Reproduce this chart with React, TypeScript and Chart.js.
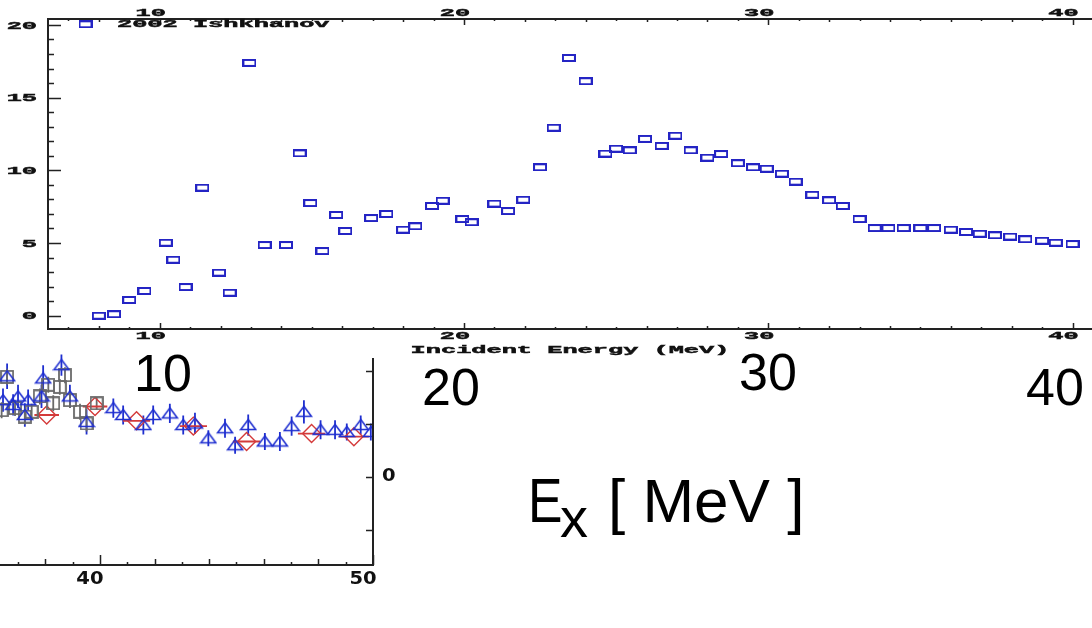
import React, { useEffect, useRef } from "react";
import { Chart, registerables } from "chart.js";

Chart.register(...registerables);

// ---------- Main chart: 2002 Ishkhanov ----------
const ENERGY = [8.0, 8.5, 9.0, 9.5, 10.2, 10.45, 10.85, 11.4, 11.95, 12.3, 12.95, 13.45, 14.15, 14.6, 14.95, 15.35, 15.8, 16.1, 16.95, 17.45, 18.0, 18.4, 18.95, 19.3, 19.95, 20.25, 21.0, 21.45, 21.95, 22.5, 22.95, 23.45, 24.0, 24.65, 25.0, 25.45, 25.95, 26.5, 26.95, 27.45, 28.0, 28.45, 29.0, 29.5, 29.95, 30.45, 30.9, 31.45, 32.0, 32.45, 33.0, 33.5, 33.95, 34.45, 35.0, 35.45, 36.0, 36.5, 36.95, 37.45, 37.95, 38.45, 39.0, 39.45, 40.0];
const CROSS_SECTION = [0.0, 0.1, 1.08, 1.7, 5.02, 3.85, 1.97, 8.81, 2.96, 1.58, 17.39, 4.86, 4.86, 11.17, 7.75, 4.45, 6.93, 5.83, 6.72, 7.0, 5.92, 6.15, 7.55, 7.91, 6.65, 6.43, 7.71, 7.2, 7.98, 10.21, 12.93, 17.73, 16.13, 11.15, 11.49, 11.38, 12.16, 11.68, 12.38, 11.38, 10.87, 11.12, 10.49, 10.21, 10.11, 9.77, 9.22, 8.32, 7.94, 7.55, 6.65, 6.03, 6.03, 6.03, 6.03, 6.03, 5.92, 5.76, 5.64, 5.53, 5.44, 5.26, 5.16, 5.02, 4.93];
const SERIES_LABEL = "2002 Ishkhanov";
const MAIN_X_TITLE = "Incident Energy (MeV)";
const MAIN_X_TICK_LABELS = [10, 20, 30, 40];
const MAIN_Y_TICK_LABELS = [0, 5, 10, 15, 20];
const MAIN_X_RANGE = [6.33, 40.64];
const MAIN_Y_RANGE = [-0.915, 20.41];

// ---------- Fragment chart (lower left) ----------
const TRI_X = [36.45, 36.6, 36.82, 37.0, 37.25, 37.37, 37.86, 37.92, 38.59, 38.9, 39.51, 40.49, 40.85, 41.59, 41.95, 42.56, 43.05, 43.48, 43.97, 44.58, 44.95, 45.43, 46.04, 46.59, 47.02, 47.47, 48.08, 48.61, 49.04, 49.55, 49.92];
const TRI_Y = [1.45, 1.9, 1.36, 1.52, 1.17, 1.45, 1.52, 1.86, 2.11, 1.52, 1.04, 1.3, 1.17, 0.98, 1.17, 1.2, 0.98, 1.01, 0.73, 0.92, 0.6, 0.98, 0.67, 0.67, 0.96, 1.23, 0.89, 0.89, 0.85, 0.98, 0.85];
const TRI_ERR = [0.22, 0.24, 0.2, 0.22, 0.22, 0.2, 0.22, 0.25, 0.2, 0.22, 0.24, 0.18, 0.18, 0.18, 0.18, 0.18, 0.18, 0.2, 0.15, 0.18, 0.16, 0.2, 0.16, 0.18, 0.18, 0.22, 0.18, 0.18, 0.16, 0.18, 0.16];
const SQ_X = [36.4, 36.6, 36.89, 37.25, 37.5, 37.8, 38.11, 38.29, 38.53, 38.72, 38.9, 39.27, 39.51, 39.88];
const SQ_Y = [1.26, 1.89, 1.3, 1.14, 1.23, 1.52, 1.74, 1.39, 1.7, 1.92, 1.45, 1.23, 1.01, 1.39];
const SQ_ERR = [0.15, 0.15, 0.15, 0.15, 0.15, 0.15, 0.15, 0.15, 0.15, 0.15, 0.15, 0.15, 0.15, 0.12];
const DIA_X = [38.05, 39.82, 41.34, 43.42, 45.37, 47.75, 49.3];
const DIA_Y = [1.17, 1.33, 1.06, 0.96, 0.67, 0.82, 0.76];
const DIA_XERR = [0.45, 0.45, 0.5, 0.5, 0.5, 0.5, 0.55];
const FRAG_X_TICK_LABELS = [40, 50];
const FRAG_Y_TICKS = [-1, 0, 1, 2];
const FRAG_Y_TICK_LABELS = [0];
const FRAG_X_RANGE = [36.34, 50];
const FRAG_Y_RANGE = [-1.66, 2.245];

const BLUE = "#2424c4";
const TRI_BLUE = "#1f2fd0";
const GRAY = "#6a6a6a";
const RED = "#d43a3a";
const AXIS = "#222";
const MONO = '"Liberation Mono", "DejaVu Sans Mono", monospace';

function stretchedText(ctx: CanvasRenderingContext2D, text: string, x: number, y: number, align: CanvasTextAlign, sx: number, font: string, heavy = 0) {
  ctx.save();
  ctx.translate(x, y);
  ctx.scale(sx, 1);
  ctx.font = font;
  ctx.fillStyle = "#111";
  ctx.strokeStyle = "#111";
  ctx.textAlign = align;
  ctx.textBaseline = "middle";
  ctx.fillText(text, 0, 0);
  if (heavy > 0) {
    ctx.lineWidth = heavy;
    ctx.strokeText(text, 0, 0);
  }
  ctx.restore();
}

function makeRectMarker(color: string) {
  const c = document.createElement("canvas");
  c.width = 14;
  c.height = 8;
  const g = c.getContext("2d")!;
  g.strokeStyle = color;
  g.lineWidth = 2;
  g.strokeRect(1, 1, 12, 6);
  return c;
}
function makeTriMarker(color: string) {
  const c = document.createElement("canvas");
  c.width = 18;
  c.height = 14;
  const g = c.getContext("2d")!;
  g.strokeStyle = color;
  g.lineWidth = 1.6;
  g.beginPath();
  g.moveTo(9, 1.5);
  g.lineTo(16.5, 11.5);
  g.lineTo(1.5, 11.5);
  g.closePath();
  g.stroke();
  return c;
}
function makeSquareMarker(color: string) {
  const c = document.createElement("canvas");
  c.width = 14;
  c.height = 14;
  const g = c.getContext("2d")!;
  g.strokeStyle = color;
  g.lineWidth = 1.8;
  g.strokeRect(1, 1, 12, 12);
  return c;
}

export default function App() {
  const mainRef = useRef<HTMLCanvasElement | null>(null);
  const fragRef = useRef<HTMLCanvasElement | null>(null);

  useEffect(() => {
    const rectMarker = makeRectMarker(BLUE);
    const triMarker = makeTriMarker(TRI_BLUE);
    const sqMarker = makeSquareMarker(GRAY);

    const mainPlugin = {
      id: "mainAxes",
      afterDraw(chart: any) {
        const { ctx, chartArea: ca, scales } = chart;
        const xs = scales.x;
        const ys = scales.y;
        ctx.save();
        ctx.strokeStyle = AXIS;
        ctx.lineWidth = 2;
        ctx.beginPath();
        ctx.moveTo(ca.left, ca.top);
        ctx.lineTo(ca.right, ca.top);
        ctx.moveTo(ca.left, ca.bottom);
        ctx.lineTo(ca.right, ca.bottom);
        ctx.moveTo(ca.left, ca.top - 1);
        ctx.lineTo(ca.left, ca.bottom + 1);
        ctx.stroke();
        ctx.lineWidth = 1.5;
        ctx.beginPath();
        for (let v = Math.ceil(xs.min); v <= Math.floor(xs.max); v++) {
          const px = Math.round(xs.getPixelForValue(v)) + 0.5;
          const len = v % 10 === 0 ? 6 : v % 2 === 0 ? 3 : 2;
          ctx.moveTo(px, ca.bottom);
          ctx.lineTo(px, ca.bottom - len);
          ctx.moveTo(px, ca.top);
          ctx.lineTo(px, ca.top + len);
        }
        for (let v = Math.ceil(ys.min); v <= Math.floor(ys.max); v++) {
          const py = Math.round(ys.getPixelForValue(v)) + 0.5;
          const len = v % 5 === 0 ? 13 : 6;
          ctx.moveTo(ca.left, py);
          ctx.lineTo(ca.left + len, py);
        }
        ctx.stroke();
        const font = `bold 11px ${MONO}`;
        MAIN_X_TICK_LABELS.forEach((v) => {
          const px = xs.getPixelForValue(v) - 9;
          stretchedText(ctx, String(v), px, ca.bottom + 7, "center", 2.3, font, 0.45);
          stretchedText(ctx, String(v), px, ca.top - 6, "center", 2.3, font, 0.45);
        });
        MAIN_Y_TICK_LABELS.forEach((v) => {
          const py = ys.getPixelForValue(v);
          stretchedText(ctx, String(v), ca.left - 11, py + 1, "right", 2.3, font, 0.45);
        });
        stretchedText(ctx, MAIN_X_TITLE, (ca.left + ca.right) / 2, ca.bottom + 21.5, "center", 2.3, font, 0.45);
        // legend
        ctx.drawImage(rectMarker, ca.left + 37.5 - 7, 24.3 - 4);
        stretchedText(ctx, SERIES_LABEL, ca.left + 69, 24, "left", 2.3, font, 0.45);
        ctx.restore();
      },
    };

    const mainChart = new Chart(mainRef.current!, {
      type: "scatter",
      data: {
        datasets: [
          {
            label: SERIES_LABEL,
            data: ENERGY.map((e, i) => ({ x: e, y: CROSS_SECTION[i] })),
            pointStyle: rectMarker as any,
            pointRadius: 7,
            showLine: false,
            clip: false as any,
          },
        ],
      },
      options: {
        animation: false,
        responsive: false,
        devicePixelRatio: 1,
        events: [],
        layout: { padding: 0, autoPadding: false },
        plugins: { legend: { display: false }, tooltip: { enabled: false } },
        scales: {
          x: {
            type: "linear",
            position: "bottom",
            min: MAIN_X_RANGE[0],
            max: MAIN_X_RANGE[1],
            grid: { display: false },
            border: { display: false },
            ticks: { display: false },
            afterFit: (s: any) => {
              s.height = 31;
            },
          },
          x2: {
            type: "linear",
            axis: "x",
            position: "top",
            min: MAIN_X_RANGE[0],
            max: MAIN_X_RANGE[1],
            grid: { display: false },
            border: { display: false },
            ticks: { display: false },
            afterFit: (s: any) => {
              s.height = 19;
            },
          },
          y: {
            type: "linear",
            position: "left",
            min: MAIN_Y_RANGE[0],
            max: MAIN_Y_RANGE[1],
            grid: { display: false },
            border: { display: false },
            ticks: { display: false },
            afterFit: (s: any) => {
              s.width = 48;
            },
          },
        } as any,
      },
      plugins: [mainPlugin],
    });

    const fragPlugin = {
      id: "fragAxes",
      beforeDatasetsDraw(chart: any) {
        const { ctx, scales } = chart;
        const xs = scales.x;
        const ys = scales.y;
        ctx.save();
        ctx.lineWidth = 1.8;
        ctx.strokeStyle = TRI_BLUE;
        ctx.beginPath();
        TRI_X.forEach((xv, i) => {
          const px = xs.getPixelForValue(xv);
          ctx.moveTo(px, ys.getPixelForValue(TRI_Y[i] + TRI_ERR[i]));
          ctx.lineTo(px, ys.getPixelForValue(TRI_Y[i] - TRI_ERR[i]));
        });
        ctx.stroke();
        ctx.strokeStyle = GRAY;
        ctx.beginPath();
        SQ_X.forEach((xv, i) => {
          const px = xs.getPixelForValue(xv);
          ctx.moveTo(px, ys.getPixelForValue(SQ_Y[i] + SQ_ERR[i]));
          ctx.lineTo(px, ys.getPixelForValue(SQ_Y[i] - SQ_ERR[i]));
        });
        ctx.stroke();
        ctx.strokeStyle = RED;
        ctx.beginPath();
        DIA_X.forEach((xv, i) => {
          const py = ys.getPixelForValue(DIA_Y[i]);
          ctx.moveTo(xs.getPixelForValue(xv - DIA_XERR[i]), py);
          ctx.lineTo(xs.getPixelForValue(xv + DIA_XERR[i]), py);
        });
        ctx.stroke();
        ctx.restore();
      },
      afterDraw(chart: any) {
        const { ctx, chartArea: ca, scales } = chart;
        const xs = scales.x;
        const ys = scales.y;
        ctx.save();
        ctx.strokeStyle = AXIS;
        ctx.lineWidth = 2;
        ctx.beginPath();
        ctx.moveTo(ca.right, ca.top);
        ctx.lineTo(ca.right, ca.bottom + 1);
        ctx.moveTo(ca.left, ca.bottom);
        ctx.lineTo(ca.right + 1, ca.bottom);
        ctx.stroke();
        ctx.lineWidth = 1.5;
        ctx.beginPath();
        for (let v = Math.ceil(xs.min); v <= Math.floor(xs.max); v++) {
          const px = Math.round(xs.getPixelForValue(v)) + 0.5;
          const len = v % 10 === 0 ? 10 : v % 2 === 0 ? 6 : 3;
          ctx.moveTo(px, ca.bottom);
          ctx.lineTo(px, ca.bottom - len);
        }
        FRAG_Y_TICKS.forEach((v) => {
          const py = Math.round(ys.getPixelForValue(v)) + 0.5;
          ctx.moveTo(ca.right, py);
          ctx.lineTo(ca.right - 7, py);
        });
        ctx.stroke();
        const font = 'bold 17px "DejaVu Sans", sans-serif';
        FRAG_X_TICK_LABELS.forEach((v) => {
          stretchedText(ctx, String(v), xs.getPixelForValue(v) - 10, ca.bottom + 15, "center", 1.15, font);
        });
        FRAG_Y_TICK_LABELS.forEach((v) => {
          stretchedText(ctx, String(v), ca.right + 9, ys.getPixelForValue(v), "left", 1.15, font);
        });
        ctx.restore();
      },
    };

    const fragChart = new Chart(fragRef.current!, {
      type: "scatter",
      data: {
        datasets: [
          {
            label: "triangles",
            data: TRI_X.map((x, i) => ({ x, y: TRI_Y[i] })),
            pointStyle: triMarker as any,
            pointRadius: 8,
            showLine: false,
          },
          {
            label: "squares",
            data: SQ_X.map((x, i) => ({ x, y: SQ_Y[i] })),
            pointStyle: sqMarker as any,
            pointRadius: 7,
            showLine: false,
          },
          {
            label: "diamonds",
            data: DIA_X.map((x, i) => ({ x, y: DIA_Y[i] })),
            pointStyle: "rectRot",
            pointRadius: 9,
            pointBorderColor: RED,
            pointBorderWidth: 1.4,
            pointBackgroundColor: "rgba(0,0,0,0)",
            showLine: false,
          },
        ],
      },
      options: {
        animation: false,
        responsive: false,
        devicePixelRatio: 1,
        events: [],
        layout: { padding: { top: 18, left: 0, right: 0, bottom: 0 }, autoPadding: false },
        plugins: { legend: { display: false }, tooltip: { enabled: false } },
        scales: {
          x: {
            type: "linear",
            position: "bottom",
            min: FRAG_X_RANGE[0],
            max: FRAG_X_RANGE[1],
            grid: { display: false },
            border: { display: false },
            ticks: { display: false },
            afterFit: (s: any) => {
              s.height = 35;
            },
          },
          y: {
            type: "linear",
            position: "right",
            min: FRAG_Y_RANGE[0],
            max: FRAG_Y_RANGE[1],
            grid: { display: false },
            border: { display: false },
            ticks: { display: false },
            afterFit: (s: any) => {
              s.width = 27;
            },
          },
        } as any,
      },
      plugins: [fragPlugin],
    });

    return () => {
      mainChart.destroy();
      fragChart.destroy();
    };
  }, []);

  const big: React.CSSProperties = {
    position: "absolute",
    fontFamily: '"Liberation Sans", Arial, sans-serif',
    fontSize: 52,
    lineHeight: "52px",
    color: "#000",
    whiteSpace: "nowrap",
    transform: "translateX(-50%)",
  };
  const ex: React.CSSProperties = {
    position: "absolute",
    fontFamily: '"Liberation Sans", Arial, sans-serif',
    color: "#000",
    whiteSpace: "nowrap",
  };

  return (
    <div style={{ position: "absolute", left: 0, top: 0, width: 1092, height: 628, background: "#fff", overflow: "hidden" }}>
      <canvas ref={fragRef} width={400} height={260} style={{ position: "absolute", left: 0, top: 340 }} />
      <canvas ref={mainRef} width={1092} height={360} style={{ position: "absolute", left: 0, top: 0 }} />
      <div style={{ ...big, left: 163, top: 391 - 44 }}>10</div>
      <div style={{ ...big, left: 451, top: 405 - 44 }}>20</div>
      <div style={{ ...big, left: 768, top: 390 - 44 }}>30</div>
      <div style={{ ...big, left: 1055, top: 405 - 44 }}>40</div>
      <div style={{ ...ex, left: 528, top: 522 - 53.3, fontSize: 63, lineHeight: "63px", transform: "scaleX(0.82)", transformOrigin: "left center" }}>E</div>
      <div style={{ ...ex, left: 560, top: 537 - 47.4, fontSize: 56, lineHeight: "56px" }}>x</div>
      <div style={{ ...ex, left: 608, top: 522 - 52.5, fontSize: 62, lineHeight: "62px" }}>[ MeV ]</div>
    </div>
  );
}
